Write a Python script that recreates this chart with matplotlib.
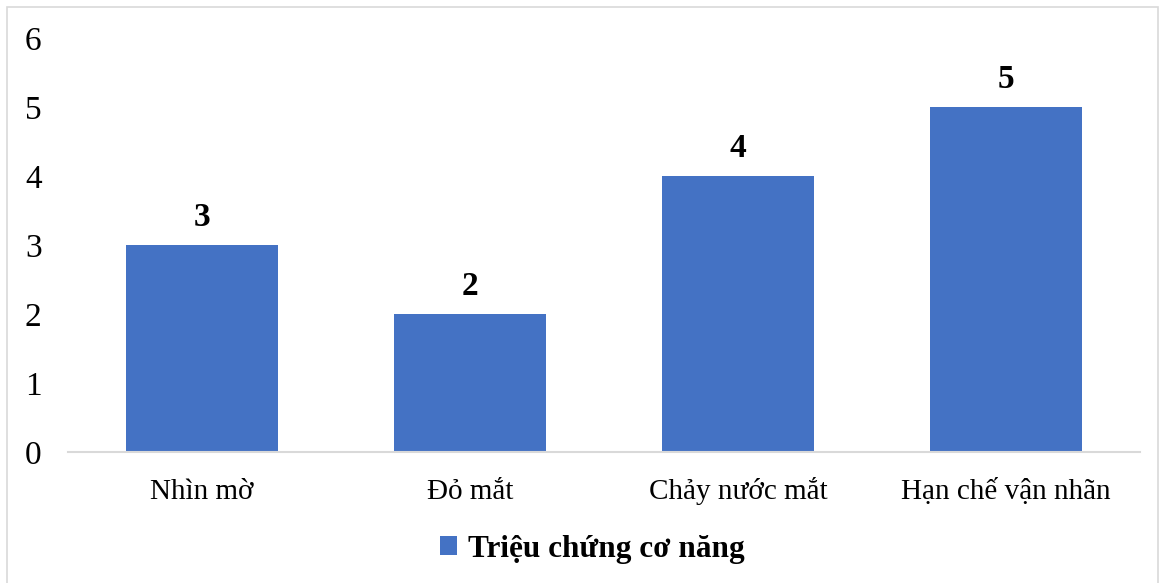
import matplotlib.pyplot as plt
from matplotlib.patches import Rectangle

plt.rcParams['font.family'] = ['Liberation Serif', 'DejaVu Serif']

categories = ['Nhìn mờ', 'Đỏ mắt', 'Chảy nước mắt', 'Hạn chế vận nhãn']
values = [3, 2, 4, 5]
series_name = 'Triệu chứng cơ năng'
bar_color = '#4472C4'

fig = plt.figure(figsize=(11.68, 5.83), dpi=100)
ax = fig.add_axes([68 / 1168, (583 - 452) / 583, (1140 - 68) / 1168, (452 - 38) / 583])

x = range(len(categories))
bars = ax.bar(x, values, width=0.567, color=bar_color, label=series_name, zorder=2)

for xi, v in zip(x, values):
    ax.annotate(str(v), (xi, v), xytext=(0, 13.5), textcoords='offset points',
                ha='center', va='baseline', fontsize=24, fontweight='bold')

ax.set_xlim(-0.5, len(categories) - 0.5)
ax.set_ylim(0, 6)
ax.set_yticks(range(0, 7))
ax.set_xticks(list(x))
ax.set_xticklabels(categories, va='baseline')
ax.tick_params(axis='y', length=0, pad=19, labelsize=24)
ax.tick_params(axis='x', length=0, pad=34, labelsize=21)

for side in ['top', 'right', 'left']:
    ax.spines[side].set_visible(False)
ax.spines['bottom'].set_color('#D9D9D9')
ax.spines['bottom'].set_linewidth(1.5)

leg = fig.legend(handles=[bars], labels=[series_name], loc='center',
                 bbox_to_anchor=(592 / 1168, 1 - 549 / 583), frameon=False,
                 prop={'size': 22.5, 'weight': 'bold'}, handlelength=0.55,
                 handleheight=0.55, handletextpad=0.35)

# chart area outline
fig.patches.append(Rectangle((7 / 1168, -0.05), (1158 - 7) / 1168, 1.05 - 7 / 583,
                             transform=fig.transFigure, fill=False,
                             edgecolor='#D9D9D9', linewidth=1.2))

fig.savefig('out.png', dpi=100)
